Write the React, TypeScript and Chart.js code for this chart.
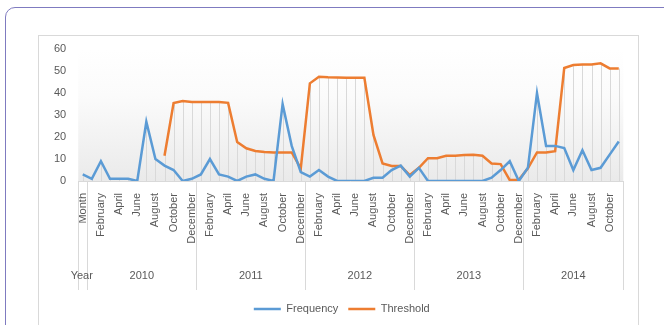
import React, { useEffect, useRef } from "react";
import { Chart, registerables } from "chart.js";

Chart.register(...registerables);

const monthNames = [
  "January", "February", "March", "April", "May", "June",
  "July", "August", "September", "October", "November", "December",
];
const years = ["2010", "2011", "2012", "2013", "2014"];
const monthsPerYear = [12, 12, 12, 12, 11];
const headerMonth = "Month";
const headerYear = "Year";

const frequency = [
  3, 1, 9, 1, 1, 1, 0, 27, 10, 7, 5, 0, 1,
  3, 10, 3, 2, 0, 2, 3, 1, 0, 35, 16, 4,
  2, 5, 2, 0, 0, 0, 0, 1.5, 1.5, 5, 7, 2,
  6, 0, 0, 0, 0, 0, 0, 0, 1.5, 5, 9, 0,
  6, 40, 16, 16, 15, 5, 14, 5, 6, 12, 18,
];

const threshold = [
  null, null, null, null, null, null, null, null, null, 11.5, 35.5, 36.4, 36,
  36, 36, 36, 35.6, 17.8, 14.9, 13.7, 13.2, 13, 13, 13, 5.8,
  44.5, 47.5, 47.3, 47.2, 47, 47, 47, 21, 8, 6.8, 6.8, 2.7,
  6, 10.4, 10.4, 11.5, 11.5, 11.8, 12, 11.5, 8, 7.7, 0.4, 0.6,
  5.8, 13, 13, 13.6, 51.5, 52.8, 53.1, 53.1, 53.6, 51.3, 51.3,
];

const yMin = 0;
const yMax = 60;
const yStep = 10;

const categories: string[] = [
  headerMonth,
  ...years.flatMap((_, i) => monthNames.slice(0, monthsPerYear[i])),
];

const FONT = "'Liberation Sans', Arial, sans-serif";
const TEXT = "#595959";
const LINEGRAY = "#d9d9d9";

const decorPlugin = {
  id: "decor",
  afterLayout(chart: any) {
    if (chart.legend) {
      chart.legend.left += 6;
      chart.legend.right += 6;
    }
  },
  beforeDraw(chart: any) {
    const { ctx, chartArea } = chart;
    const { left, right, top, bottom } = chartArea;
    const g = ctx.createLinearGradient(0, top, 0, bottom);
    g.addColorStop(0, "#ffffff");
    g.addColorStop(0.35, "#fbfbfb");
    g.addColorStop(1, "#eaeaea");
    ctx.save();
    ctx.fillStyle = g;
    ctx.fillRect(left, top, right - left, bottom - top);
    ctx.restore();
  },
  beforeDatasetsDraw(chart: any) {
    const { ctx } = chart;
    const xs = chart.scales.x;
    const ys = chart.scales.y;
    const base = ys.getPixelForValue(0);
    ctx.save();
    ctx.strokeStyle = LINEGRAY;
    ctx.lineWidth = 1;
    for (let i = 0; i < categories.length; i++) {
      const vals = chart.data.datasets
        .map((d: any) => d.data[i])
        .filter((v: any) => v !== null && v !== undefined);
      if (!vals.length) continue;
      const mx = Math.max(...vals);
      const yTop = ys.getPixelForValue(mx);
      const x = Math.round(xs.getPixelForValue(i)) + 0.5;
      ctx.beginPath();
      ctx.moveTo(x, yTop);
      ctx.lineTo(x, base);
      ctx.stroke();
    }
    ctx.restore();
  },
  afterDraw(chart: any) {
    const { ctx, chartArea } = chart;
    const { left, right, bottom } = chartArea;
    const n = categories.length;
    const w = (right - left) / n;
    ctx.save();
    ctx.strokeStyle = LINEGRAY;
    ctx.lineWidth = 1;
    ctx.beginPath();
    ctx.moveTo(left, Math.round(bottom) + 0.5);
    ctx.lineTo(right, Math.round(bottom) + 0.5);
    ctx.stroke();
    const bounds = [0, 1];
    let acc = 1;
    monthsPerYear.forEach((c) => {
      acc += c;
      bounds.push(acc);
    });
    const sepBottom = bottom + 109;
    bounds.forEach((b) => {
      const x = Math.round(left + b * w) + 0.5;
      ctx.beginPath();
      ctx.moveTo(x, bottom);
      ctx.lineTo(x, sepBottom);
      ctx.stroke();
    });
    ctx.fillStyle = TEXT;
    ctx.font = `11px ${FONT}`;
    ctx.textAlign = "center";
    ctx.textBaseline = "middle";
    const yLab = bottom + 95;
    ctx.fillText(headerYear, left + 0.5 * w - 1, yLab);
    let start = 1;
    years.forEach((yr, i) => {
      const end = start + monthsPerYear[i];
      ctx.fillText(yr, left + ((start + end) / 2) * w, yLab);
      start = end;
    });
    ctx.restore();
  },
};

export default function App() {
  const ref = useRef<HTMLCanvasElement | null>(null);

  useEffect(() => {
    if (!ref.current) return;
    const chart = new Chart(ref.current, {
      type: "line",
      data: {
        labels: categories,
        datasets: [
          {
            label: "Frequency",
            data: frequency,
            borderColor: "#5B9BD5",
            backgroundColor: "#5B9BD5",
            borderWidth: 2.5,
            pointRadius: 0,
            tension: 0,
          },
          {
            label: "Threshold",
            data: threshold as any,
            borderColor: "#ED7D31",
            backgroundColor: "#ED7D31",
            borderWidth: 2.5,
            pointRadius: 0,
            tension: 0,
          },
        ],
      },
      options: {
        animation: false,
        responsive: false,
        maintainAspectRatio: false,
        layout: {
          padding: { left: 48.2, right: 40.7, top: 49.3, bottom: 0.5 },
        },
        plugins: {
          tooltip: { enabled: false },
          legend: {
            position: "bottom",
            labels: {
              usePointStyle: true,
              pointStyle: "line",
              pointStyleWidth: 27,
              padding: 10,
              color: TEXT,
              font: { size: 11, family: FONT },
            },
          },
        },
        scales: {
          x: {
            type: "category",
            offset: true,
            grid: { display: false, drawTicks: false },
            border: { display: false },
            afterFit: (s: any) => {
              s.height = 112.5;
            },
            ticks: {
              autoSkip: false,
              minRotation: 90,
              maxRotation: 90,
              padding: 12,
              color: TEXT,
              font: { size: 11, family: FONT },
              callback: (_v: any, i: number) => (i % 2 === 0 ? categories[i] : ""),
            },
          },
          y: {
            min: yMin,
            max: yMax,
            grid: { display: false, drawTicks: false },
            border: { display: false },
            afterFit: (s: any) => {
              s.width = 30;
            },
            ticks: {
              stepSize: yStep,
              padding: 12,
              color: TEXT,
              font: { size: 11, family: FONT },
            },
          },
        },
      },
      plugins: [decorPlugin],
    });
    return () => chart.destroy();
  }, []);

  return (
    <div style={{ position: "absolute", left: 0, top: 0, width: 664, height: 325, overflow: "hidden", background: "#fff" }}>
      <div
        style={{
          position: "absolute",
          left: 5,
          top: 7,
          width: 720,
          height: 400,
          border: "1.5px solid #7f7bc0",
          borderRadius: 10,
          boxSizing: "border-box",
        }}
      />
      <div
        style={{
          position: "absolute",
          left: 38,
          top: 35,
          width: 601,
          height: 320,
          border: `1px solid ${LINEGRAY}`,
          boxSizing: "border-box",
        }}
      />
      <canvas
        ref={ref}
        width={664}
        height={325}
        style={{ position: "absolute", left: 0, top: 0, width: 664, height: 325 }}
      />
    </div>
  );
}
